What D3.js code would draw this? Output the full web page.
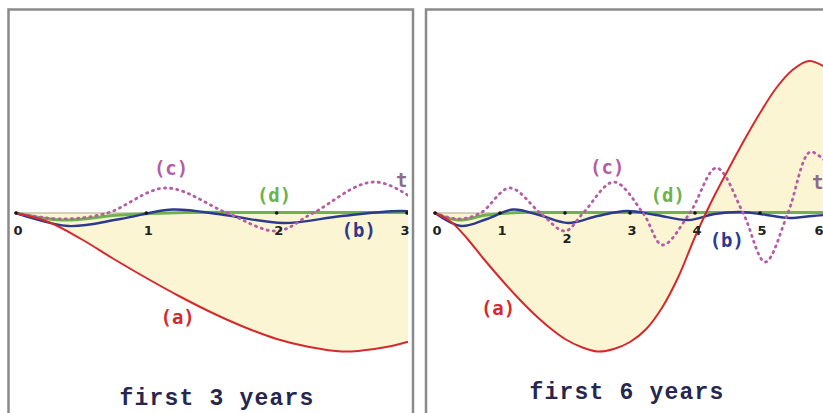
<!DOCTYPE html>
<html>
<head>
<meta charset="utf-8">
<script src="https://cdn.jsdelivr.net/npm/d3@7/dist/d3.min.js"></script>
<style>
  html, body { margin: 0; padding: 0; background: #fff; }
  svg { display: block; }
</style>
</head>
<body>
<svg id="chart" width="823" height="413"></svg>
<script>
// (a) response, sampled every quarter year
const tA = [0,0.25,0.5,0.75,1,1.25,1.5,1.75,2,2.25,2.5,2.75,3,3.25,3.5,3.75,4,4.25,4.5,4.75,5,5.25,5.5,5.75,6];
const vA = [0,-0.9,-2.6,-4.6,-6.5,-8.3,-9.95,-11.4,-12.6,-13.4,-13.85,-13.6,-12.9,-11.6,-9.4,-6.3,-2.4,1.1,4.2,7.2,10.0,12.5,14.3,15.2,14.6];

// (b) response
const tB = [0,0.4,0.8,1.2,1.6,2.05,2.5,2.95,3.4,3.9,4.3,4.7,5.1,5.45,5.8,6];
const vB = [0,-1.3,-0.6,0.35,-0.2,-1.0,-0.3,0.2,-0.2,-0.7,-0.1,0.1,-0.2,-0.5,-0.3,-0.2];

// (c) response (dotted)
const tC = [0,0.35,0.7,1.15,1.62,2.0,2.28,2.75,3.2,3.5,3.92,4.33,4.74,5.08,5.43,5.77,6];
const vC = [0,-0.6,0,2.5,0,-1.8,0,3.1,0,-3.2,0,4.5,0,-4.9,0,6.1,5.2];

// (d) response
const tD = [0,0.35,0.8,1.3,2,3,4,5,6];
const vD = [0,-0.7,-0.2,0.05,0.05,0.05,0.05,0.05,0.05];

const panelTitles = ["first 3 years", "first 6 years"];
const panelSpans = [3, 6];
const tickValues = [[0,1,2,3],[0,1,2,3,4,5,6]];

const zip = (ts, vs) => ts.map((t, i) => ({t, v: vs[i]}));
const seriesA = zip(tA, vA), seriesB = zip(tB, vB), seriesC = zip(tC, vC), seriesD = zip(tD, vD);

const svg = d3.select("#chart");

const colors = {
  a: "#d42a2e", b: "#2c3a8e", c: "#b35ea6", d: "#6db24c",
  fill: "#fcf5d3", axis: "#c9c2a4", frame: "#8a8a8a", text: "#26264e", tick: "#222", tLabel: "#8a6c8c"
};

// layout for each panel
const panels = [
  {
    frame: {x: 8.5, y: 9.5, w: 404.5, h: 420},
    xRange: [16, 407],
    clipRight: 408,
    title: {x: 217, y: 405},
    tickDx: {3: -4}, tickDy: {},
    labels: [
      {text: "(c)", t: 1.19, v: 3.8, color: colors.c},
      {text: "(d)", t: 1.98, v: 1.1, color: colors.d},
      {text: "(b)", t: 2.63, v: -2.4, color: colors.b},
      {text: "(a)", t: 1.24, v: -11.1, color: colors.a},
      {text: "t", t: 2.96, v: 2.6, color: colors.tLabel}
    ]
  },
  {
    frame: {x: 426, y: 9.5, w: 420, h: 420},
    xRange: [435, 825],
    clipRight: 823,
    title: {x: 627, y: 399},
    tickDx: {6: -8}, tickDy: {2: 8},
    labels: [
      {text: "(c)", t: 2.65, v: 3.9, color: colors.c},
      {text: "(d)", t: 3.58, v: 1.1, color: colors.d},
      {text: "(b)", t: 4.49, v: -3.4, color: colors.b},
      {text: "(a)", t: 0.97, v: -10.2, color: colors.a},
      {text: "t", t: 5.89, v: 2.4, color: colors.tLabel}
    ]
  }
];

const y = d3.scaleLinear().domain([-14, 16]).range([353, 53]);

panels.forEach((p, i) => {
  const x = d3.scaleLinear().domain([0, panelSpans[i]]).range(p.xRange);
  const g = svg.append("g");

  // frame
  g.append("rect")
    .attr("x", p.frame.x).attr("y", p.frame.y)
    .attr("width", p.frame.w).attr("height", p.frame.h)
    .attr("fill", "#fff").attr("stroke", colors.frame).attr("stroke-width", 2.5);

  const clipId = "clip" + i;
  svg.append("defs").append("clipPath").attr("id", clipId)
    .append("rect")
    .attr("x", p.frame.x + 2).attr("y", p.frame.y + 2)
    .attr("width", p.clipRight - p.frame.x - 2).attr("height", 400);

  const plot = g.append("g").attr("clip-path", `url(#${clipId})`);
  const curve = d3.curveCatmullRom.alpha(0.5);

  // shaded area between (a) and zero
  const area = d3.area()
    .x(d => x(d.t)).y0(y(0)).y1(d => y(d.v))
    .curve(curve);
  plot.append("path").datum(seriesA)
    .attr("d", area).attr("fill", colors.fill);

  // time axis
  plot.append("line")
    .attr("x1", x(0)).attr("x2", x(panelSpans[i]))
    .attr("y1", y(0)).attr("y2", y(0))
    .attr("stroke", colors.axis).attr("stroke-width", 1.5);

  const line = d3.line().x(d => x(d.t)).y(d => y(d.v)).curve(curve);

  plot.append("path").datum(seriesD).attr("d", line)
    .attr("fill", "none").attr("stroke", colors.d).attr("stroke-width", 3);
  plot.append("path").datum(seriesB).attr("d", line)
    .attr("fill", "none").attr("stroke", colors.b).attr("stroke-width", 2.4);
  plot.append("path").datum(seriesC).attr("d", line)
    .attr("fill", "none").attr("stroke", colors.c).attr("stroke-width", 2.8)
    .attr("stroke-dasharray", "1.2,5").attr("stroke-linecap", "round");
  plot.append("path").datum(seriesA).attr("d", line)
    .attr("fill", "none").attr("stroke", colors.a).attr("stroke-width", 2);

  // tick dots and labels
  plot.selectAll("circle.tick").data(tickValues[i]).enter()
    .append("circle").attr("class", "tick")
    .attr("cx", d => x(d)).attr("cy", y(0)).attr("r", 1.8)
    .attr("fill", "#111");

  g.selectAll("text.ticklabel").data(tickValues[i]).enter()
    .append("text").attr("class", "ticklabel")
    .attr("x", d => x(d) + 2 + (p.tickDx[d] || 0))
    .attr("y", d => y(0) + 22 + (p.tickDy[d] || 0))
    .attr("text-anchor", "middle")
    .attr("font-family", "DejaVu Sans, Verdana, sans-serif")
    .attr("font-weight", "bold").attr("font-size", 13)
    .attr("fill", colors.tick)
    .text(d => d);

  // curve labels
  g.selectAll("text.curvelabel").data(p.labels).enter()
    .append("text").attr("class", "curvelabel")
    .attr("x", d => x(d.t)).attr("y", d => y(d.v))
    .attr("text-anchor", "middle")
    .attr("font-family", "DejaVu Sans Mono, monospace")
    .attr("font-weight", "bold").attr("font-size", 19)
    .attr("fill", d => d.color)
    .text(d => d.text);

  // panel title
  g.append("text")
    .attr("x", p.title.x).attr("y", p.title.y)
    .attr("text-anchor", "middle")
    .attr("font-family", "Liberation Mono, Courier New, monospace")
    .attr("font-weight", "bold").attr("font-size", 23)
    .attr("letter-spacing", 1.2)
    .attr("fill", colors.text)
    .text(panelTitles[i]);
});
</script>
</body>
</html>
